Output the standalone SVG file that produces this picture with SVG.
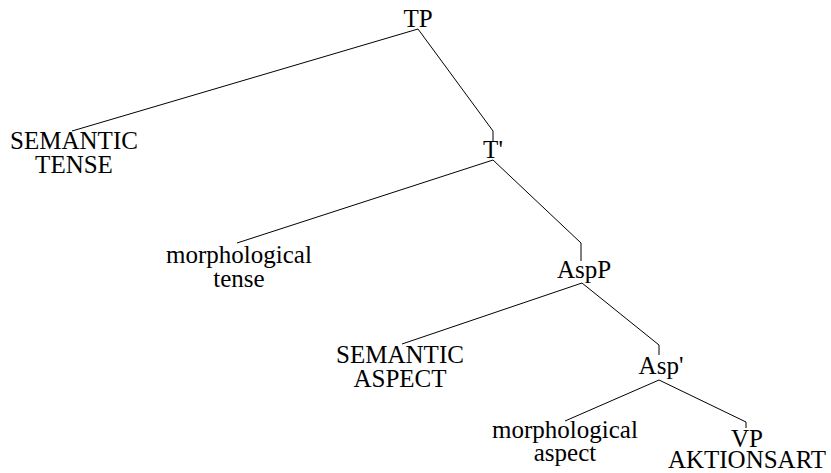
<svg xmlns="http://www.w3.org/2000/svg" width="831" height="473" viewBox="0 0 831 473">
  <style>
    text { font-family: "Liberation Serif", "DejaVu Serif", serif; font-size: 25px; fill: #000; text-anchor: middle; }
    .edge { fill: none; stroke: #000; stroke-width: 1; }
  </style>
  <rect width="831" height="473" fill="#fff"/>
  <!-- tree branches: parent apex to child, with a short vertical stub above phrase nodes -->
  <g id="connectors">
    <polyline class="edge" points="418,29 72,131"/>
    <polyline class="edge" points="418,29 493,131 493,141"/>
    <polyline class="edge" points="493,160 237,243"/>
    <polyline class="edge" points="493,160 581,243 581,261"/>
    <polyline class="edge" points="582,283 402,344"/>
    <polyline class="edge" points="582,283 659,345 659,355"/>
    <polyline class="edge" points="659,380 565,421"/>
    <polyline class="edge" points="659,380 746,422 746,428"/>
  </g>
  <g id="tp"><text x="418" y="27">TP</text></g>
  <g id="semantic-tense"><text x="74" y="149">SEMANTIC</text><text x="74" y="173">TENSE</text></g>
  <g id="t-bar"><text x="493" y="158">T'</text></g>
  <g id="morphological-tense"><text x="239" y="263">morphological</text><text x="239" y="287">tense</text></g>
  <g id="aspp"><text x="584" y="278">AspP</text></g>
  <g id="semantic-aspect"><text x="400" y="363">SEMANTIC</text><text x="400" y="387">ASPECT</text></g>
  <g id="asp-bar"><text x="661" y="374">Asp'</text></g>
  <g id="morphological-aspect"><text x="565" y="438">morphological</text><text x="565" y="461">aspect</text></g>
  <g id="vp-aktionsart"><text x="747" y="447">VP</text><text x="747" y="468">AKTIONSART</text></g>
</svg>
